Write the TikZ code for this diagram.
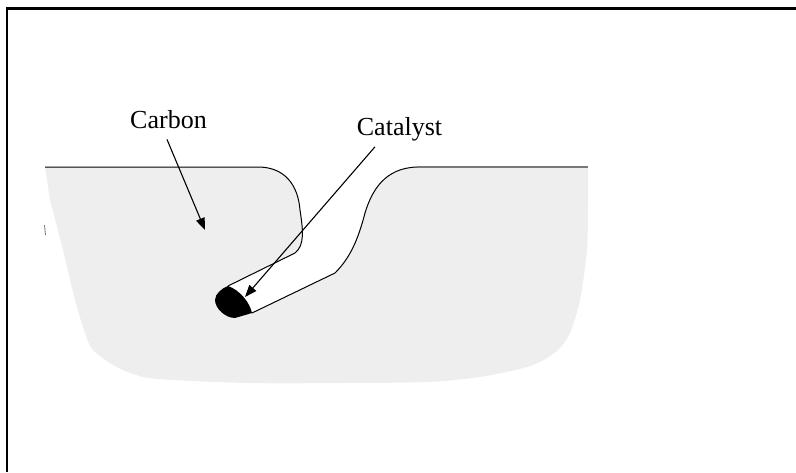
\documentclass[tikz,border=0pt]{standalone}
\usepackage{fontspec}
\setmainfont{Liberation Serif}
\usetikzlibrary{arrows.meta}
\definecolor{carbongray}{HTML}{EEEEEE}
\definecolor{rimgray}{HTML}{777777}
\begin{document}
\begin{tikzpicture}[x=1pt,y=-1pt,
  lbl/.style={inner sep=0pt,anchor=base,font=\fontsize{26}{30}\selectfont},
  wall/.style={draw=black,line width=1pt},
  pointer/.style={draw=black,line width=1.1pt,-{Triangle[length=12pt,width=9pt]}}]
  \useasboundingbox (0,0) rectangle (796,472);

  % frame (left and top edges only)
  \draw[line width=2.6pt] (7,472) -- (7,8.5) -- (796,8.5);

  % carbon body with the etched channel left open
  \fill[carbongray] (45,167) -- (260,167)
    .. controls (285,168) and (298,185) .. (300,210)
    .. controls (303,230) and (305,245) .. (295,253)
    -- (228,286) -- (215,300) -- (235,318) -- (252,313)
    -- (335,273)
    .. controls (350,258) and (358,240) .. (365,213)
    .. controls (372,190) and (385,168) .. (417,167)
    -- (588,167)
    -- plot[smooth,tension=0.5] coordinates {(588,200) (587,250) (580,300) (570,333) (560,348)
         (547,358) (527,367) (480,377) (427,382) (347,383) (247,383) (158,379)
         (133,374) (113,365) (93,350) (85,333) (75,300) (63,250) (50,200)}
    -- cycle;

  % channel walls
  \draw[wall] (45,167) -- (260,167)
    .. controls (285,168) and (298,185) .. (300,210)
    .. controls (303,230) and (305,245) .. (295,253)
    -- (228,286);
  \draw[wall] (252,313) -- (335,273)
    .. controls (350,258) and (358,240) .. (365,213)
    .. controls (372,190) and (385,168) .. (417,167);
  \draw[rimgray,line width=1.8pt] (417,167) -- (588,167);

  % small mark at the left edge
  \draw[rimgray,line width=0.8pt] (44.5,225) -- (45.5,235);

  % catalyst particle at the end of the channel
  \fill[black] (228,286) .. controls (222,288) and (215,294) .. (215,300)
    .. controls (215,308) and (225,318) .. (235,318)
    -- (252,313)
    .. controls (250,303) and (240,290) .. (228,286) -- cycle;

  % labels and pointers
  \node[lbl] (carbon) at (168.5,128) {Carbon};
  \node[lbl] (catalyst) at (399.5,135) {Catalyst};
  \coordinate (carbontip) at (205,230);
  \coordinate (catalysttip) at (245,297);
  \draw[pointer] ([shift={(-1.5,11)}]carbon.south) -- (carbontip);
  \draw[pointer] ([shift={(-24.5,6)}]catalyst.south) -- (catalysttip);
\end{tikzpicture}
\end{document}
